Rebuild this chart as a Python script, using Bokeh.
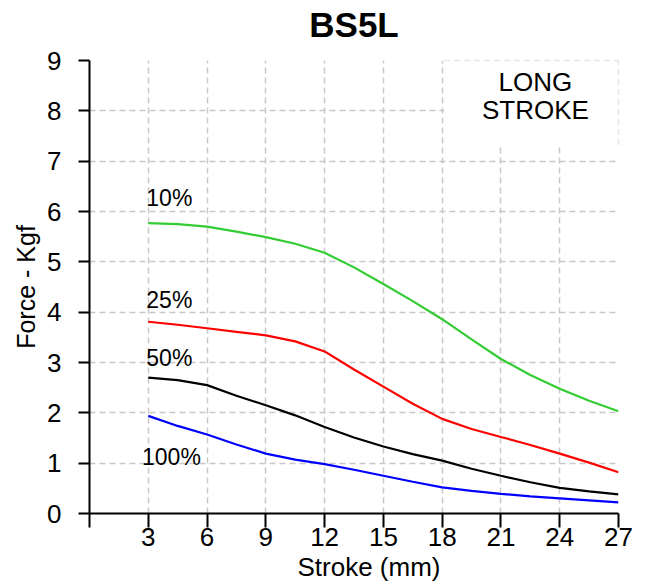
from bokeh.plotting import figure
from bokeh.models import Range1d, FixedTicker, Label, BoxAnnotation, Title, LinearAxis
from bokeh.embed import file_html
from bokeh.resources import INLINE

# ---- data ----
stroke = [3, 4.5, 6, 7.5, 9, 10.5, 12, 13.5, 15, 16.5, 18, 19.5, 21, 22.5, 24, 25.5, 27]
force_10 = [5.77, 5.75, 5.70, 5.60, 5.49, 5.36, 5.18, 4.89, 4.56, 4.22, 3.86, 3.46, 3.07, 2.75, 2.48, 2.24, 2.03]
force_25 = [3.81, 3.75, 3.68, 3.61, 3.54, 3.42, 3.22, 2.86, 2.52, 2.18, 1.88, 1.68, 1.52, 1.36, 1.19, 1.01, 0.82]
force_50 = [2.70, 2.65, 2.55, 2.34, 2.15, 1.95, 1.72, 1.51, 1.33, 1.18, 1.05, 0.89, 0.75, 0.62, 0.51, 0.44, 0.38]
force_100 = [1.94, 1.74, 1.57, 1.37, 1.19, 1.07, 0.98, 0.87, 0.75, 0.63, 0.52, 0.45, 0.39, 0.34, 0.30, 0.26, 0.22]

series_names = ["10%", "25%", "50%", "100%"]
series_values = [force_10, force_25, force_50, force_100]
series_colors = ["#33cc33", "#ff0000", "#000000", "#0000ff"]

x_ticks = [0, 3, 6, 9, 12, 15, 18, 21, 24, 27]
y_ticks = [0, 1, 2, 3, 4, 5, 6, 7, 8, 9]

# label anchors (data coordinates)
label_pos = [(2.9, 6.26), (2.9, 4.25), (2.9, 3.08), (2.68, 1.12)]

FONT = "Liberation Sans"

p = figure(width=640, height=588, output_backend="svg", toolbar_location=None,
           x_range=Range1d(0, 27), y_range=Range1d(0, 9),
           min_border_left=89, min_border_right=22, min_border_top=60, min_border_bottom=75,
           background_fill_color="white", border_fill_color="white")
p.outline_line_color = None

p.title.text = "BS5L"
p.title.align = "center"
p.title.text_font = FONT
p.title.text_font_size = "35px"
p.title.text_font_style = "bold"
p.title.text_color = "black"
p.title.standoff = 0

# invisible spacer between title and plot area (one hidden tick, blank label)
spacer = LinearAxis(ticker=FixedTicker(ticks=[13], minor_ticks=[]), axis_line_color=None,
                    major_tick_line_color=None, minor_tick_line_color=None,
                    major_tick_in=0, major_tick_out=0, major_label_standoff=2,
                    major_label_text_font_size="11px", major_label_overrides={13: " "})
p.add_layout(spacer, "above")

# x axis title (placed below the axis, shifted right as in the reference)
p.add_layout(Title(text="Stroke (mm)", align="left", offset=208, standoff=2,
                   text_font=FONT, text_font_size="26px", text_font_style="normal",
                   text_color="black"), "below")

# axes
xax = p.below[0]
yax = p.left[0]
xax.ticker = FixedTicker(ticks=x_ticks)
yax.ticker = FixedTicker(ticks=y_ticks)
xax.major_label_overrides = {0: ""}
yax.axis_label = "Force - Kgf"
for ax in (xax, yax):
    ax.axis_line_color = "black"
    ax.axis_line_width = 2
    ax.major_tick_line_color = "black"
    ax.major_tick_line_width = 2
    ax.major_tick_in = 0
    ax.minor_tick_line_color = None
    ax.major_label_text_font = FONT
    ax.major_label_text_font_size = "26px"
    ax.major_label_text_color = "black"
    ax.axis_label_text_font = FONT
    ax.axis_label_text_font_size = "25px"
    ax.axis_label_text_font_style = "normal"
    ax.axis_label_text_color = "black"
xax.major_tick_out = 14
yax.major_tick_out = 11
xax.major_label_standoff = 0
yax.major_label_standoff = 17
yax.axis_label_standoff = 4

# grid
for g in (p.xgrid, p.ygrid):
    g.grid_line_color = "#c8c8c8"
    g.grid_line_dash = "6 4"
    g.grid_line_width = 1.5
p.xgrid.ticker = FixedTicker(ticks=x_ticks[1:])
p.ygrid.ticker = FixedTicker(ticks=y_ticks[1:])

# lines
for vals, col in zip(series_values, series_colors):
    p.line(stroke, vals, line_color=col, line_width=2.2)

# series labels
for name, (lx, ly) in zip(series_names, label_pos):
    p.add_layout(Label(x=lx, y=ly, text=name, text_font=FONT, text_font_size="23px",
                       text_color="black", text_baseline="alphabetic", text_align="left"))

# "LONG STROKE" box
p.add_layout(BoxAnnotation(left=18.1, right=27, bottom=7.32, top=9,
                           fill_color="white", fill_alpha=1.0, line_color=None))
edge = p.segment(x0=[18.1, 27], y0=[9, 7.32], x1=[27, 27], y1=[9, 9],
                 line_color="#e6e6e6", line_dash="6 4", line_width=1.5, level="overlay")
p.add_layout(Label(x=22.76, y=8.58, text="LONG", text_font=FONT, text_font_size="26px",
                   text_color="black", text_align="center", text_baseline="alphabetic"))
p.add_layout(Label(x=22.76, y=8.02, text="STROKE", text_font=FONT, text_font_size="26px",
                   text_color="black", text_align="center", text_baseline="alphabetic"))

open("out.html", "w").write(file_html(p, INLINE))
